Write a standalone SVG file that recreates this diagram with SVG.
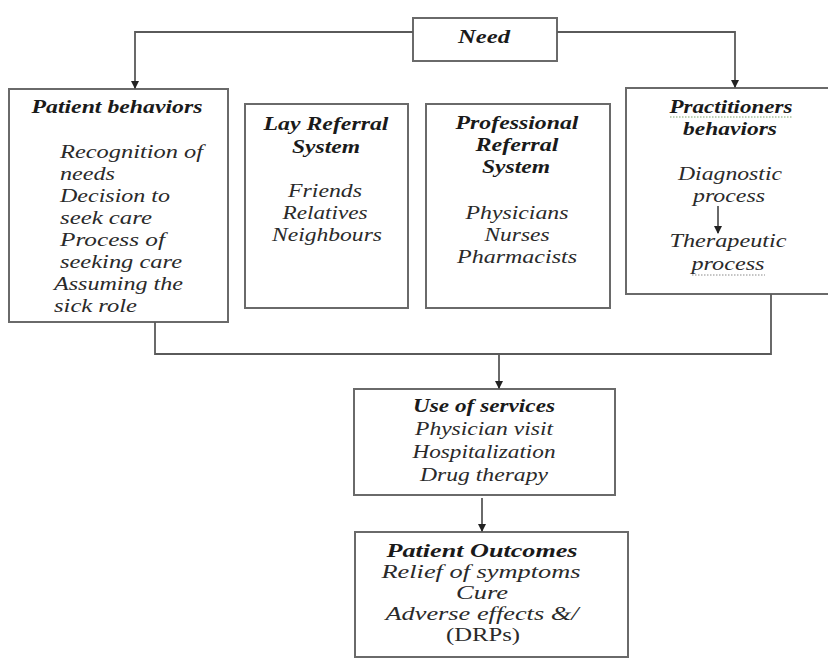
<svg xmlns="http://www.w3.org/2000/svg" width="828" height="660" viewBox="0 0 828 660">
<style>
.box{fill:#fff;stroke:#6a6a6a;stroke-width:2}
.ln{fill:none;stroke:#5a5a5a;stroke-width:1.8}
text{font-family:"Liberation Serif","Times New Roman",serif;font-style:italic;font-size:19px;fill:#2a2a2a;text-anchor:middle}
.t{font-weight:bold;fill:#1a1a1a}
.s{text-anchor:start}
.up{font-style:normal}
.sm{font-size:18px}
</style>
<defs>
<marker id="ah" markerWidth="8" markerHeight="8" refX="7" refY="4" orient="auto" markerUnits="userSpaceOnUse">
<path d="M0,0 L8,4 L0,8 Z" fill="#222"/>
</marker>
</defs>
<rect width="828" height="660" fill="#fff"/>
<g id="need">
<rect class="box" x="413" y="18" width="144" height="43"/>
<text class="t" x="484" y="43" textLength="52" lengthAdjust="spacingAndGlyphs">Need</text>
</g>
<g id="patient-behaviors">
<rect class="box" x="9" y="89" width="219" height="233"/>
<text class="t" x="117" y="113" textLength="171" lengthAdjust="spacingAndGlyphs">Patient behaviors</text>
<text class="s" x="60" y="158" textLength="143" lengthAdjust="spacingAndGlyphs">Recognition of</text>
<text class="s" x="60" y="180" textLength="55" lengthAdjust="spacingAndGlyphs">needs</text>
<text class="s" x="60" y="202" textLength="110" lengthAdjust="spacingAndGlyphs">Decision to</text>
<text class="s" x="60" y="224" textLength="92" lengthAdjust="spacingAndGlyphs">seek care</text>
<text class="s" x="60" y="246" textLength="105" lengthAdjust="spacingAndGlyphs">Process of</text>
<text class="s" x="60" y="268" textLength="122" lengthAdjust="spacingAndGlyphs">seeking care</text>
<text class="s" x="54" y="290" textLength="129" lengthAdjust="spacingAndGlyphs">Assuming the</text>
<text class="s" x="54" y="312" textLength="83" lengthAdjust="spacingAndGlyphs">sick role</text>
</g>
<g id="lay-referral">
<rect class="box" x="245" y="104" width="163" height="204"/>
<text class="t" x="326" y="130" textLength="125" lengthAdjust="spacingAndGlyphs">Lay Referral</text>
<text class="t" x="326" y="153" textLength="68" lengthAdjust="spacingAndGlyphs">System</text>
<text x="325" y="197" textLength="74" lengthAdjust="spacingAndGlyphs">Friends</text>
<text x="325" y="219" textLength="85" lengthAdjust="spacingAndGlyphs">Relatives</text>
<text x="327" y="241" textLength="110" lengthAdjust="spacingAndGlyphs">Neighbours</text>
</g>
<g id="professional-referral">
<rect class="box" x="426" y="104" width="184" height="204"/>
<text class="t" x="517" y="129" textLength="123" lengthAdjust="spacingAndGlyphs">Professional</text>
<text class="t" x="517" y="151" textLength="83" lengthAdjust="spacingAndGlyphs">Referral</text>
<text class="t" x="516" y="173" textLength="68" lengthAdjust="spacingAndGlyphs">System</text>
<text x="517" y="219" textLength="103" lengthAdjust="spacingAndGlyphs">Physicians</text>
<text x="517" y="241" textLength="65" lengthAdjust="spacingAndGlyphs">Nurses</text>
<text x="517" y="263" textLength="120" lengthAdjust="spacingAndGlyphs">Pharmacists</text>
</g>
<g id="practitioners-behaviors">
<rect class="box" x="626" y="88" width="210" height="206"/>
<text class="t" x="731" y="113" textLength="123" lengthAdjust="spacingAndGlyphs">Practitioners</text>
<line x1="670" y1="117" x2="793" y2="117" stroke="#7aa36a" stroke-width="1" stroke-dasharray="1.5,1.5"/>
<text class="t" x="730" y="135" textLength="94" lengthAdjust="spacingAndGlyphs">behaviors</text>
<text x="730" y="180" textLength="104" lengthAdjust="spacingAndGlyphs">Diagnostic</text>
<text x="729" y="202" textLength="72" lengthAdjust="spacingAndGlyphs">process</text>
<text x="728" y="247" textLength="117" lengthAdjust="spacingAndGlyphs">Therapeutic</text>
<text x="728" y="270" textLength="73" lengthAdjust="spacingAndGlyphs">process</text>
<line x1="692" y1="275" x2="765" y2="275" stroke="#8a8a8a" stroke-width="1" stroke-dasharray="1.5,1.5"/>
</g>
<g id="use-of-services">
<rect class="box" x="354" y="389" width="261" height="106"/>
<text class="t" x="484" y="412" textLength="142" lengthAdjust="spacingAndGlyphs">Use of services</text>
<text x="484" y="435" textLength="138" lengthAdjust="spacingAndGlyphs">Physician visit</text>
<text x="484" y="458" textLength="143" lengthAdjust="spacingAndGlyphs">Hospitalization</text>
<text x="484" y="481" textLength="128" lengthAdjust="spacingAndGlyphs">Drug therapy</text>
</g>
<g id="patient-outcomes">
<rect class="box" x="355" y="532" width="273" height="125"/>
<text class="t sm" x="482" y="557" textLength="191" lengthAdjust="spacingAndGlyphs">Patient Outcomes</text>
<text class="sm" x="481" y="578" textLength="199" lengthAdjust="spacingAndGlyphs">Relief of symptoms</text>
<text class="sm" x="482" y="599" textLength="52" lengthAdjust="spacingAndGlyphs">Cure</text>
<text class="sm" x="482" y="620" textLength="193" lengthAdjust="spacingAndGlyphs">Adverse effects &amp;/</text>
<text class="sm up" x="483" y="641" textLength="74" lengthAdjust="spacingAndGlyphs">(DRPs)</text>
</g>
<g id="connectors">
<path class="ln" d="M413,32 H135 V88" marker-end="url(#ah)"/>
<path class="ln" d="M557,32 H735 V87" marker-end="url(#ah)"/>
<path class="ln" d="M155,322 V354 H771 V294"/>
<path class="ln" d="M499,354 V388" marker-end="url(#ah)"/>
<path class="ln" d="M482,498 V531" marker-end="url(#ah)"/>
<path class="ln" d="M718,206 V233" marker-end="url(#ah)"/>
</g>
</svg>
